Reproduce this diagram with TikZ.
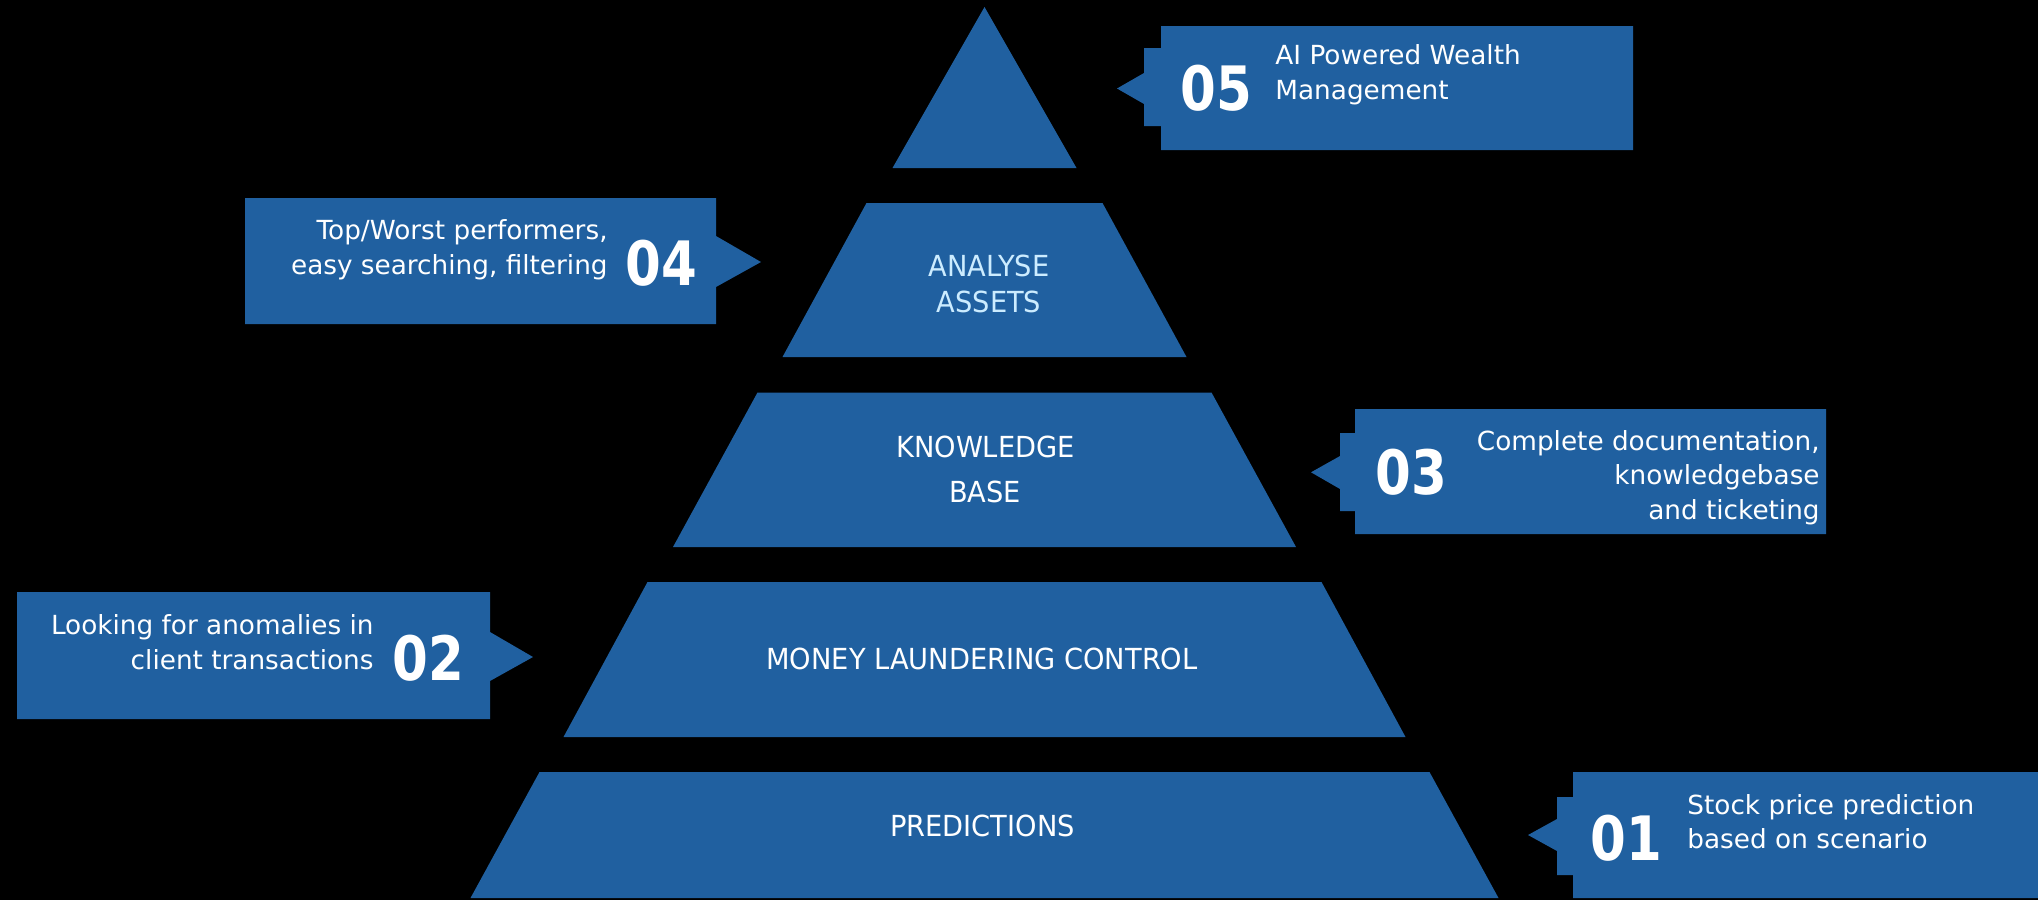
\documentclass[tikz,border=0pt]{standalone}
\usepackage{fontspec}
\setmainfont{DejaVu Sans}
\newfontfamily\labelfont[FakeStretch=0.94]{DejaVu Sans}
\newfontfamily\numfont[FakeStretch=0.84]{DejaVu Sans}
\definecolor{pblue}{RGB}{32,96,160}
\definecolor{pcyan}{RGB}{204,236,255}
\tikzset{
  blk/.style={fill=pblue},
  ctext/.style={text=white, inner sep=0pt, font=\fontsize{13.15}{17.5}\selectfont},
  num/.style={text=white, inner sep=0pt, anchor=base, font=\numfont\bfseries\fontsize{30.6}{36}\selectfont},
  lvl/.style={text=white, inner sep=0pt, anchor=base, font=\labelfont\fontsize{14.5}{18}\selectfont},
}
\begin{document}
\begin{tikzpicture}[x=0.5pt,y=-0.5pt]
\fill[black] (0,0) rectangle (2038,900);
\useasboundingbox (0,0) rectangle (2038,900);
% pyramid levels
\fill[blk] (984.5,7) -- (1076.5,168) -- (892.5,168) -- cycle;
\fill[blk] (866.5,203) -- (1102.5,203) -- (1186.5,357) -- (782.5,357) -- cycle;
\fill[blk] (757.5,392.5) -- (1211.5,392.5) -- (1296,547) -- (673,547) -- cycle;
\fill[blk] (647.5,582) -- (1321.5,582) -- (1405.5,737) -- (563.5,737) -- cycle;
\fill[blk] (539.5,772) -- (1429.5,772) -- (1498.5,898) -- (470.5,898) -- cycle;
% level labels
\node[lvl, text=pcyan] (l4a) at (989,276) {ANALYSE};
\node[lvl, text=pcyan] (l4b) at (989,312.3) {ASSETS};
\node[lvl] (l3a) at (985.5,457.7) {KNOWLEDGE};
\node[lvl] (l3b) at (985,502.3) {BASE};
\node[lvl] (l2) at (982,669.3) {MONEY LAUNDERING CONTROL};
\node[lvl] (l1) at (982.5,836) {PREDICTIONS};
% callout 05
\fill[blk] (1161,26) -- (1633,26) -- (1633,150) -- (1161,150) -- (1161,126) -- (1144,126)
  -- (1144,104) -- (1117,88.5) -- (1144,73) -- (1144,48) -- (1161,48) -- cycle;
\node[num] (n5) at (1216,110) {05};
\node[ctext, anchor=base west] (t5a) at (1275,64.3) {AI Powered Wealth};
\node[ctext, anchor=base west] (t5b) at (1275,99.3) {Management};
% callout 04
\fill[blk] (245,198) -- (716,198) -- (716,236) -- (761,262) -- (716,287) -- (716,324) -- (245,324) -- cycle;
\node[num] (n4) at (661.3,285) {04};
\node[ctext, anchor=base east] (t4a) at (608,239.3) {Top/Worst performers,};
\node[ctext, anchor=base east] (t4b) at (608,274.3) {easy searching, filtering};
% callout 03
\fill[blk] (1355,409) -- (1826,409) -- (1826,534) -- (1355,534) -- (1355,511) -- (1340,511)
  -- (1340,489) -- (1311,472.3) -- (1340,456) -- (1340,433) -- (1355,433) -- cycle;
\node[num] (n3) at (1411.7,494) {03};
\node[ctext, anchor=base east] (t3a) at (1820,450) {Complete documentation,};
\node[ctext, anchor=base east] (t3b) at (1820,484.5) {knowledgebase};
\node[ctext, anchor=base east] (t3c) at (1820,519) {and ticketing};
% callout 02
\fill[blk] (17,592) -- (490,592) -- (490,632) -- (533,657) -- (490,681) -- (490,719) -- (17,719) -- cycle;
\node[num] (n2) at (428,680) {02};
\node[ctext, anchor=base east] (t2a) at (374,634) {Looking for anomalies in};
\node[ctext, anchor=base east] (t2b) at (374,669) {client transactions};
% callout 01
\fill[blk] (1573,772) -- (2038,772) -- (2038,898) -- (1573,898) -- (1573,875) -- (1557,875)
  -- (1557,851) -- (1528,835) -- (1557,819) -- (1557,797) -- (1573,797) -- cycle;
\node[num] (n1) at (1626.3,860) {01};
\node[ctext, anchor=base west] (t1a) at (1687,814) {Stock price prediction};
\node[ctext, anchor=base west] (t1b) at (1687,848.7) {based on scenario};
\end{tikzpicture}
\end{document}
